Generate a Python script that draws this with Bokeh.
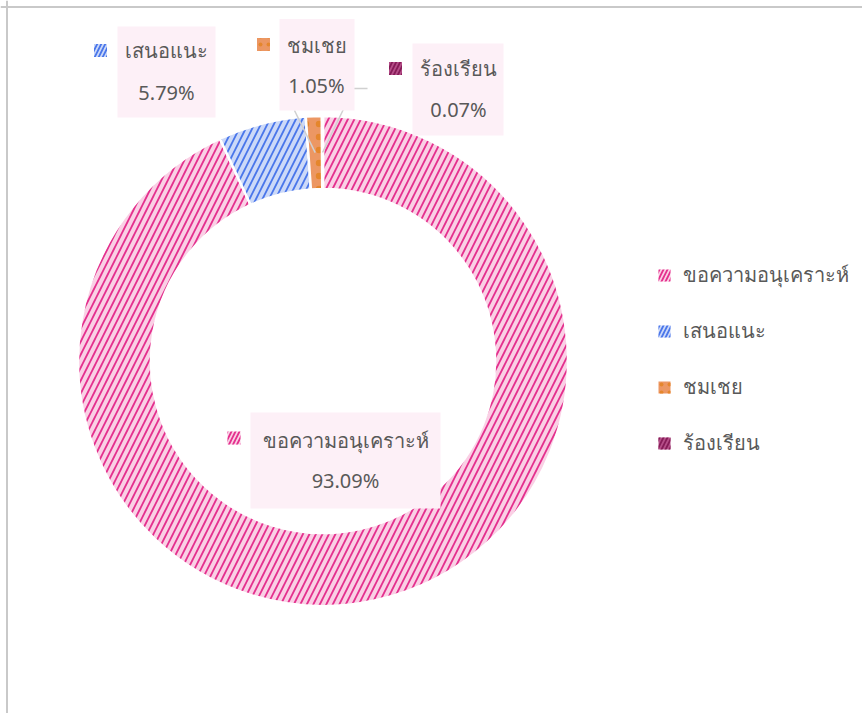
import math
from bokeh.plotting import figure
from bokeh.models import Range1d, ColumnDataSource, Legend, LegendItem, Span
from bokeh.core.properties import value
from bokeh.embed import file_html
from bokeh.resources import INLINE

# ---- data ----
categories = ["ขอความอนุเคราะห์", "เสนอแนะ", "ชมเชย", "ร้องเรียน"]
percents = [93.09, 5.79, 1.05, 0.07]

# ---- styles ----
fill_colors = ["#FAD0E5", "#CCD9F8", "#EC9763", "#B54E88"]
hatch_colors = ["#E4308E", "#4A76EA", "#E5862C", "#861C58"]
hatch_patterns = ["/", "/", ".", "/"]
hatch_weights = [1.8, 1.8, 1.0, 1.8]
FONT = "Noto Sans"
TEXT_COLOR = "#595959"

# ---- layout (pixel units, origin at donut centre) ----
W, H = 862, 713
CX, CY = 322.5, 360.5            # donut centre (from left / from top)
R_OUT, R_IN = 245, 172
box_left = [-72.5, -205.5, -43.5, 89.5]
box_right = [117.5, -107.5, 31.5, 180.5]
box_top = [-51.5, 334.5, 342.0, 317.5]
box_bottom = [-147.5, 243.5, 250.5, 225.5]
text_x = [22.5, -156.5, -6.5, 135.5]
cat_y = [-79.5, 310.5, 315.5, 292.5]
pct_y = [-119.5, 268.5, 275.5, 251.5]
mark_x = [-89.0, -222.5, -59.5, 72.5]
mark_y = [-77.0, 310.5, 316.5, 292.5]

total = sum(percents)
starts, ends, mids = [], [], []
cum = 0.0
for v in percents:
    f0 = cum / total
    cum += v
    f1 = cum / total
    # clockwise from 12 o'clock
    starts.append(math.pi / 2 - 2 * math.pi * f1)
    ends.append(math.pi / 2 - 2 * math.pi * f0)
    mids.append(math.pi / 2 - 2 * math.pi * (f0 + f1) / 2)

pct_labels = ["%.2f%%" % v for v in percents]

src = ColumnDataSource(dict(
    cat=categories, pct=pct_labels, start=starts, end=ends,
    fill=fill_colors, hatch=hatch_colors, pat=hatch_patterns, hw=hatch_weights,
    bl=box_left, br=box_right, bt=box_top, bb=box_bottom,
    tx=text_x, cy=cat_y, py=pct_y, mx=mark_x, my=mark_y,
))

p = figure(width=W, height=H, output_backend="svg", toolbar_location=None,
           x_range=Range1d(-CX, W - CX), y_range=Range1d(-(H - CY), CY),
           x_axis_type=None, y_axis_type=None, min_border=0)
p.grid.visible = False
p.outline_line_color = None
p.background_fill_color = "white"

# chart-area border (left and top visible in the window)
p.add_layout(Span(location=6.5 - CX, dimension="height",
                  line_color="#C9C9C9", line_width=2))
p.add_layout(Span(location=CY - 6.5, dimension="width",
                  line_color="#C9C9C9", line_width=2))

# donut
p.annular_wedge(x=0, y=0, inner_radius=R_IN, outer_radius=R_OUT,
                start_angle="start", end_angle="end", direction="anticlock",
                source=src, fill_color="fill", line_color="white", line_width=2.5,
                hatch_pattern="pat", hatch_color="hatch", hatch_scale=13,
                hatch_weight="hw")

# leader lines (to slice mid points at mid radius)
r_mid = (R_IN + R_OUT) / 2
ex2 = r_mid * math.cos(mids[2]); ey2 = r_mid * math.sin(mids[2])
ex3 = r_mid * math.cos(mids[3]); ey3 = r_mid * math.sin(mids[3])
p.line(x=[-28.5, ex2], y=[250.5, ey2], line_color="#D0D0D0", line_width=1.5)
p.line(x=[44.5, 30.5, ex3], y=[272.5, 272.5, ey3], line_color="#D0D0D0", line_width=1.5)

# label boxes
p.quad(left="bl", right="br", top="bt", bottom="bb", source=src,
       fill_color="#FDF0F7", line_color=None)

# label texts
p.text(x="tx", y="cy", text="cat", source=src, text_align="center",
       text_baseline="middle", text_font=value(FONT), text_font_size="20px",
       text_color=TEXT_COLOR)
p.text(x="tx", y="py", text="pct", source=src, text_align="center",
       text_baseline="middle", text_font=value(FONT), text_font_size="20px",
       text_color=TEXT_COLOR)

# label markers
sq = p.scatter(x="mx", y="my", source=src, marker="square", size=13,
               fill_color="fill", line_color=None, hatch_pattern="pat",
               hatch_color="hatch", hatch_scale=8, hatch_weight="hw")

legend = Legend(items=[LegendItem(label=c, renderers=[sq], index=i)
                       for i, c in enumerate(categories)],
                location=(649, 254), glyph_width=30, glyph_height=30,
                label_height=30, spacing=24, label_standoff=4, padding=0,
                margin=0, border_line_color=None, background_fill_alpha=0,
                label_text_font=FONT, label_text_font_size="20px",
                label_text_color=TEXT_COLOR)
p.add_layout(legend, "center")

open("out.html", "w").write(file_html(p, INLINE))
